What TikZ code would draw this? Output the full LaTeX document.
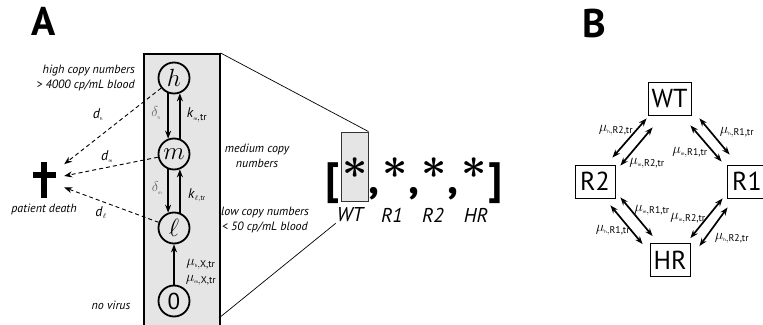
\documentclass[tikz,border=0pt]{standalone}
\usepackage{graphicx}
\usepackage{fontspec}
\usepackage{amsmath}
\setmainfont{PT Sans}
\usetikzlibrary{arrows.meta, positioning}

% tiny first index of a rate
\newcommand{\tinysub}[1]{\text{\fontsize{4.5}{5}\selectfont #1}}

\begin{document}
\begin{tikzpicture}[x=1pt, y=-1pt,
   panelletter/.style={font=\fontsize{40}{40}\selectfont\bfseries},
   copylvl/.style={circle, draw, line width=1.8pt, minimum size=31pt, inner sep=0pt, font=\fontsize{23}{23}\selectfont},
   flow/.style={-{Stealth[length=8pt, width=6pt]}, line width=1.7pt},
   deathlink/.style={-{Stealth[length=8pt, width=6pt]}, dash pattern=on 4pt off 3pt, line width=0.9pt},
   note/.style={font=\fontsize{12}{14.5}\selectfont\itshape, align=center, inner sep=1pt},
   ratelbl/.style={font=\fontsize{14}{14}\selectfont, inner sep=1pt},
   statebox/.style={draw, line width=0.9pt, minimum width=40pt, minimum height=33pt, inner sep=2pt, font=\fontsize{26}{26}\selectfont},
   trans/.style={{Stealth[length=8pt, width=6pt]}-{Stealth[length=8pt, width=6pt]}, line width=1.7pt},
   vecsym/.style={anchor=base, inner sep=0pt, font=\fontsize{44}{44}\selectfont\bfseries},
   vecstar/.style={inner sep=0pt},
   veclbl/.style={font=\fontsize{20}{20}\selectfont\itshape, inner sep=1pt}
]
   \useasboundingbox (0,0) rectangle (763,324);
   % Panel letters
   \node[panelletter] (labA) at (44,21) {A};
   \node[panelletter] (labB) at (594,23) {B};

   % Copy number ladder
   \node[draw, line width=1.6pt, fill=gray!20, minimum width=76pt, minimum height=290pt,
      anchor=north west, inner sep=0pt] (panel) at (143,53) {};
   \node[copylvl] (h) at (174,78) {$h$};
   \node[copylvl] (m) at (174,154) {$m$};
   \node[copylvl] (l) at (174,228) {$\ell$};
   \node[copylvl] (z) at (174,301) {0};
   \draw[flow] (h.-111) -- (m.111);
   \draw[flow] (m.69) -- (h.-69);
   \draw[flow] (m.-111) -- (l.111);
   \draw[flow] (l.69) -- (m.-69);
   \draw[flow] (z) -- (l);
   \node[ratelbl, text=black!60] (dlh) at (156,113) {$\delta_{\tinysub{h}}$};
   \node[ratelbl] (kmtr) at (197,115) {\textit{k}$_{\tinysub{m},\text{tr}}$};
   \node[ratelbl, text=black!60] (dlm) at (157,188) {$\delta_{\tinysub{m}}$};
   \node[ratelbl] (kltr) at (197,195) {\textit{k}$_{\scriptscriptstyle\ell,\text{tr}}$};
   \node[ratelbl] (muhx) at (201,264) {$\mu_{\tinysub{h},\text{X,tr}}$};
   \node[ratelbl] (mumx) at (201,280) {$\mu_{\tinysub{m},\text{X,tr}}$};

   % Copy number notes
   \node[note, anchor=east, align=right] (highnote) at (136,78) {high copy numbers\\> 4000 cp/mL blood};
   \node[note] (mednote) at (257,156) {medium copy\\numbers};
   \node[note] (lownote) at (265,220) {low copy numbers\\< 50 cp/mL blood};
   \node[note] (novirus) at (111,305) {no virus};

   % Patient death
   \node[minimum width=40pt, minimum height=44pt, inner sep=0pt] (death) at (44,180) {};
   \draw[line width=5.5pt] (44,162) -- (44,198) (32.5,175) -- (55.5,175);
   \node[note] (deathlbl) at (44,209) {patient death};
   \draw[deathlink] (h) -- (death);
   \draw[deathlink] (m) -- (death);
   \draw[deathlink] (l) -- (death);
   \node[ratelbl] (dh) at (98,115) {\textit{d}$_{\tinysub{h}}$};
   \node[ratelbl] (dm) at (107,157) {\textit{d}$_{\tinysub{m}}$};
   \node[ratelbl] (dl) at (101,213) {\textit{d}$_{\scriptscriptstyle\ell}$};

   % Genotype vector
   \node[fill=gray!20, draw=gray!40!black, line width=0.9pt, minimum width=27pt,
      minimum height=69pt, inner sep=0pt] (wtslot) at (354.5,166.5) {};
   \node[vecsym] (lbr) at (333,193) {[};
   \node[vecstar] (s1) at (355,168) {\scalebox{4.4}{\boldmath$\ast$}};
   \node[vecsym] (c1) at (374,193) {,};
   \node[vecstar] (s2) at (395,168) {\scalebox{4.4}{\boldmath$\ast$}};
   \node[vecsym] (c2) at (414,193) {,};
   \node[vecstar] (s3) at (434,168) {\scalebox{4.4}{\boldmath$\ast$}};
   \node[vecsym] (c3) at (453,193) {,};
   \node[vecstar] (s4) at (474,168) {\scalebox{4.4}{\boldmath$\ast$}};
   \node[vecsym] (rbr) at (496,193) {]};
   \node[veclbl] (lWT) at (350,215) {WT};
   \node[veclbl] (lR1) at (392,215) {R1};
   \node[veclbl] (lR2) at (433,215) {R2};
   \node[veclbl] (lHR) at (476,215) {HR};
   % Zoom lines
   \coordinate (panelcut) at (219,318);
   \draw[line width=0.7pt] (panel.north east) -- (wtslot.north east);
   \draw[line width=0.7pt] (panelcut) -- (lWT.south west);

   % Mutation network
   \node[statebox, minimum width=43pt] (WT) at (669.5,98.5) {WT};
   \node[statebox] (R2) at (595,181.5) {R2};
   \node[statebox] (R1) at (747,181.5) {R1};
   \node[statebox] (HR) at (670,260) {HR};
   % WT -- R2
   \draw[trans] ([shift={(-1,3)}]WT.south west) -- ([shift={(-3,-7)}]R2.north east);
   \draw[trans] ([shift={(5,12)}]WT.south west) -- ([shift={(5,1)}]R2.north east);
   % WT -- R1
   \draw[trans] ([shift={(8,3)}]WT.south east) -- ([shift={(3,-10)}]R1.north west);
   \draw[trans] ([shift={(-1,10)}]WT.south east) -- ([shift={(-5,-3)}]R1.north west);
   % R2 -- HR
   \draw[trans] ([shift={(-5,7)}]R2.south east) -- ([shift={(-7,1)}]HR.north west);
   \draw[trans] ([shift={(5,-1)}]R2.south east) -- ([shift={(3,-7)}]HR.north west);
   % R1 -- HR
   \draw[trans] ([shift={(-4,0)}]R1.south west) -- ([shift={(0,-5)}]HR.north east);
   \draw[trans] ([shift={(1,9)}]R1.south west) -- ([shift={(9,3)}]HR.north east);
   % Rates
   \node[ratelbl] (muhR2a) at (616,130) {$\mu_{\tinysub{h},\text{R2,tr}}$};
   \node[ratelbl] (mumR2a) at (647,163) {$\mu_{\tinysub{m},\text{R2,tr}}$};
   \node[ratelbl] (muhR1a) at (737,132) {$\mu_{\tinysub{h},\text{R1,tr}}$};
   \node[ratelbl] (mumR1a) at (690,152) {$\mu_{\tinysub{m},\text{R1,tr}}$};
   \node[ratelbl] (mumR1b) at (652,210) {$\mu_{\tinysub{m},\text{R1,tr}}$};
   \node[ratelbl] (muhR1b) at (613,230) {$\mu_{\tinysub{h},\text{R1,tr}}$};
   \node[ratelbl] (mumR2b) at (688,218) {$\mu_{\tinysub{m},\text{R2,tr}}$};
   \node[ratelbl] (muhR2b) at (732,238) {$\mu_{\tinysub{h},\text{R2,tr}}$};
\end{tikzpicture}
\end{document}
